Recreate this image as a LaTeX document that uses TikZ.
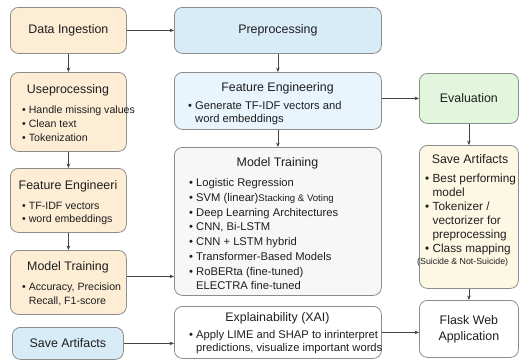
\documentclass[tikz,border=0pt]{standalone}
\usepackage{fontspec}
\setmainfont{Liberation Sans}
\usetikzlibrary{positioning}
\usetikzlibrary{arrows.meta}

\definecolor{peach}{HTML}{FDEDD5}
\definecolor{skyblue}{HTML}{D8ECF8}
\definecolor{paleblue}{HTML}{E8F5FC}
\definecolor{lightgray}{HTML}{F7F7F7}
\definecolor{mint}{HTML}{E2F6DD}
\definecolor{cream}{HTML}{FDF8E4}
\definecolor{edge}{HTML}{8C8C8C}
\definecolor{ink}{HTML}{1E1E1E}
\definecolor{wire}{HTML}{444444}

\newcommand{\bul}{\textbullet\ }
\newcommand{\bulgap}{\phantom{\textbullet\ }}

\tikzset{
 box/.style={draw=edge,line width=0.8pt,rounded corners=8pt,anchor=north west,inner sep=0pt,text=ink,
   font=\fontsize{12.4}{16}\selectfont,align=center},
 ttl/.style={inner sep=0pt,text=ink,font=\fontsize{12.4}{14}\selectfont},
 txt/.style={inner sep=0pt,anchor=north west,align=left,text=ink},
 arr/.style={-{Stealth[length=4.5pt,width=3.6pt]},draw=wire,line width=0.6pt}
}

\begin{document}
\begin{tikzpicture}[x=1pt,y=-1pt]
 \useasboundingbox (0,0) rectangle (519,360);

 % left column
 \node[box,fill=peach,minimum width=116pt,minimum height=46pt] (ingest) at (10,7) {Data Ingestion};
 \node[box,fill=peach,minimum width=116pt,minimum height=79pt] (usep) at (10,72) {};
 \node[ttl] (usepT) at (68,90) {Useprocessing};
 \node[txt,font=\fontsize{10.6}{14}\selectfont] (usepL) at (22,105.5)
   {\bul Handle missing values\\ \bul Clean text\\ \bul Tokenization};
 \node[box,fill=peach,minimum width=116pt,minimum height=64pt] (featL) at (10,168) {};
 \node[ttl] (featLT) at (68,186) {Feature Engineeri};
 \node[txt,font=\fontsize{10.6}{13.5}\selectfont] (featLL) at (22,201.5)
   {\bul TF-IDF vectors\\ \bul word embeddings};
 \node[box,fill=peach,minimum width=116pt,minimum height=64pt] (trainL) at (10,250) {};
 \node[ttl] (trainLT) at (68,267) {Model Training};
 \node[txt,font=\fontsize{10.6}{14}\selectfont] (trainLL) at (22,282.5)
   {\bul Accuracy, Precision\\ \bulgap Recall, F1-score};
 \node[box,fill=skyblue,minimum width=111pt,minimum height=32pt] (saveL) at (12,327) {Save Artifacts};

 % middle column
 \node[box,fill=skyblue,minimum width=207pt,minimum height=46pt] (prep) at (174,7) {Preprocessing};
 \node[box,fill=paleblue,minimum width=207pt,minimum height=57pt] (featM) at (174,72) {};
 \node[ttl] (featMT) at (277.5,88) {Feature Engineering};
 \node[txt,font=\fontsize{11.2}{12.5}\selectfont] (featML) at (188,101.5)
   {\bul Generate TF-IDF vectors and\\ \bulgap word embeddings};
 \node[box,fill=lightgray,minimum width=207pt,minimum height=148pt] (trainM) at (174,147) {};
 \node[ttl] (trainMT) at (277.5,163) {Model Training};
 \node[txt,font=\fontsize{11.2}{14.7}\selectfont] (trainML) at (189,178.5)
   {\bul Logistic Regression\\
    \bul SVM (linear){\fontsize{9.6}{10}\selectfont Stacking \& Voting}\\
    \bul Deep Learning Architectures\\
    \bul CNN, Bi-LSTM\\
    \bul CNN + LSTM hybrid\\
    \bul Transformer-Based Models\\
    \bul RoBERta (fine-tuned)\\
    \bulgap ELECTRA fine-tuned};
 \node[box,fill=white,minimum width=207pt,minimum height=52pt] (explain) at (174,306) {};
 \node[ttl] (explainT) at (277.5,318) {Explainability (XAI)};
 \node[txt,font=\fontsize{11.2}{13}\selectfont] (explainL) at (189,330.5)
   {\bul Apply LIME and SHAP to inrinterpret\\ \bulgap predictions, visualize important words};

 % right column
 \node[box,fill=mint,minimum width=99pt,minimum height=50pt] (eval) at (419,73) {Evaluation};
 \node[box,fill=cream,minimum width=99pt,minimum height=143pt] (saveR) at (419,145) {};
 \node[ttl] (saveRT) at (470,159) {Save Artifacts};
 \node[txt,font=\fontsize{11.8}{14}\selectfont] (saveRL) at (425,174)
   {\bul Best performing\\ \bulgap model\\ \bul Tokenizer /\\ \bulgap vectorizer for\\
    \bulgap preprocessing\\ \bul Class mapping};
 \node[inner sep=0pt,anchor=west,text=ink,font=\fontsize{8.8}{10}\selectfont] (saveRS) at (417,262)
   {(Suicide \& Not-Suicide)};
 \node[box,fill=white,minimum width=99pt,minimum height=57pt] (flask) at (419,300) {Flask Web\\ Application};

 % connectors
 \draw[arr] (ingest) -- (prep);
 \draw[arr] (ingest) -- (usep);
 \draw[arr] (usep) -- (featL);
 \draw[arr] (featL) -- (trainL);
 \draw[arr] ([yshift=6pt]trainL.east) -- ([yshift=6pt]trainL.east -| trainM.west);
 \draw[arr] (saveL.east) -- (saveL.east -| explain.west);
 \draw[arr] (prep) -- (featM);
 \draw[arr] (featM) -- (trainM);
 \draw[arr] (featM.east |- eval.west) -- (eval.west);
 \draw[arr] (eval) -- (saveR);
 \draw[arr] (saveR) -- (flask);
 \draw[arr] (explain.east) -- (explain.east -| flask.west);
\end{tikzpicture}
\end{document}
